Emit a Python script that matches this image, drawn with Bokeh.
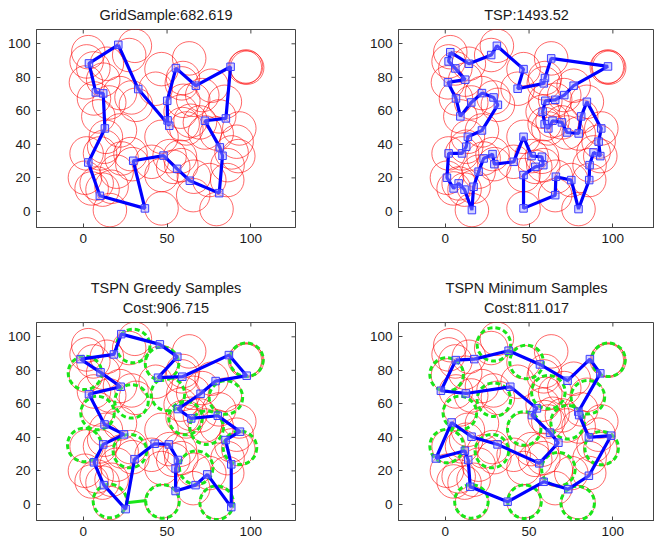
from bokeh.plotting import figure
from bokeh.layouts import column, row
from bokeh.models import Range1d, FixedTicker, Title
from bokeh.embed import file_html
from bokeh.resources import INLINE

# ---------------- data ----------------
titles = [["GridSample:682.619"], ["TSP:1493.52"],
          ["TSPN Greedy Samples", "Cost:906.715"], ["TSPN Minimum Samples", "Cost:811.017"]]
x_ticks = [0, 50, 100]
y_ticks = [0, 20, 40, 60, 80, 100]
radius = 10

# neighbourhood centres (= TSP tour vertices), in tour order
tsp_x = [3.0, 14.1, 27.4, 30.8, 46.7, 43.2, 58.8, 59.5, 63.2, 97.1, 76.6, 71.0, 65.6, 59.7, 58.1,
         59.3, 61.5, 64.0, 69.6, 72.6, 79.6, 81.1, 84.5, 93.1, 91.5, 92.5, 88.5, 86.1, 85.9, 79.5,
         75.2, 66.0, 65.6, 46.7, 46.7, 53.7, 58.5, 57.7, 51.5, 46.7, 40.8, 29.3, 28.2, 22.9, 19.9,
         16.9, 15.9, 11.5, 8.0, 5.0, 1.0, 2.0, 10.0, 12.5, 13.5, 21.9, 31.4, 28.8, 21.9, 15.5,
         9.0, 6.4, 1.6, 11.9, 6.0, 2.0]
tsp_y = [95.0, 88.1, 93.3, 98.8, 84.9, 73.2, 76.4, 79.6, 91.3, 86.5, 75.0, 69.4, 66.6, 66.0, 59.5,
         52.1, 49.5, 54.1, 53.1, 47.1, 46.5, 56.7, 65.4, 49.5, 41.6, 33.0, 35.2, 27.6, 18.7, 1.4,
         18.7, 20.7, 9.7, 1.8, 21.7, 26.6, 27.6, 32.6, 33.0, 44.5, 29.6, 28.2, 34.2, 31.6, 23.7,
         14.7, 0.8, 13.0, 16.7, 13.7, 20.1, 34.6, 34.6, 38.6, 44.5, 48.3, 63.6, 68.0, 70.6, 65.0,
         56.7, 67.4, 77.0, 78.6, 85.3, 89.5]
# a few extra neighbourhoods drawn almost on top of others
extra_x = [96.4, 97.8]
extra_y = [86.0, 85.8]

grid_x = [20.9, 3.4, 7.5, 11.9, 12.9, 3.0, 9.9, 36.8, 29.8, 47.9, 56.0, 63.6, 81.1, 83.1, 81.5,
          72.6, 85.1, 87.9, 67.2, 55.3, 50.1, 50.3, 51.3, 32.8]
grid_y = [99.4, 88.3, 71.0, 70.4, 49.5, 29.2, 9.3, 1.8, 30.2, 33.3, 25.4, 18.3, 10.9, 33.2, 38.2,
          54.1, 55.5, 86.3, 75.0, 85.5, 66.0, 54.3, 51.1, 73.0]

greedy_x = [-1.6, 18.3, 22.7, 45.7, 56.1, 44.6, 59.1, 86.9, 97.5, 79.0, 70.0, 56.5, 64.4, 80.3,
            93.5, 84.9, 88.3, 88.3, 74.0, 67.0, 55.1, 55.1, 56.5, 51.1, 42.6, 30.6, 25.3, 12.3,
            6.4, 11.9, 24.3, 12.7, 3.4, 22.3, 10.3]
greedy_y = [86.7, 89.5, 101.6, 95.5, 88.1, 75.6, 76.2, 89.1, 76.8, 73.6, 66.0, 56.9, 51.3, 52.9,
            43.4, 38.4, 23.9, -1.6, 17.9, 11.5, 8.0, 21.5, 26.5, 35.8, 36.2, 27.0, -2.8, 11.5,
            25.1, 35.8, 41.8, 47.7, 65.8, 70.2, 78.8]
greedy_gx = [97.4, 29.8, 47.0, 1.0, 28.8, 8.5, 50.5, 85.1, 61.0, 73.6, 0.6, 27.8, 15.9, 47.3,
             79.6, 67.4, 93.5]
greedy_gy = [86.3, 94.5, 84.0, 78.5, 61.5, 54.5, 65.8, 63.8, 51.5, 45.8, 35.5, 31.8, 2.0, 1.8,
             1.0, 21.9, 33.8]
greedy_link_x = [25.9, 37.8]
greedy_link_y = [1.0, 2.4]

min_x = [6.3, 17.3, 37.8, 56.5, 73.0, 86.3, 92.5, 79.4, 79.9, 85.7, 98.9, 85.7, 73.4, 58.7,
         37.2, 14.9, 13.7, 11.7, -5.6, 3.8, 15.7, 31.2, 56.1, 67.5, 62.5, 51.7, 54.7, 38.8, 12.3,
         -2.6]
min_y = [86.1, 86.7, 91.7, 83.5, 73.8, 86.7, 78.2, 55.3, 53.3, 40.0, 41.0, 17.1, 9.1, 13.5,
         1.6, 10.5, 26.5, 32.0, 27.4, 48.9, 40.4, 35.8, 24.5, 36.8, 42.8, 53.3, 57.3, 70.2, 66.2,
         67.8]
min_gx = [29.0, 97.4, 0.8, 48.5, 61.5, 85.1, 29.0, 8.7, 47.1, 73.0, 0.8, 27.8, 93.3, 67.5,
          15.6, 47.3, 79.0]
min_gy = [95.5, 86.3, 77.5, 85.0, 67.0, 64.0, 62.5, 54.5, 45.3, 49.0, 34.8, 31.8, 33.6, 21.0,
          1.8, 1.6, 0.8]

# ---------------- layout constants ----------------
PX = 1.676           # pixels per data unit
X0, Y0 = -27.9, -9.6
FRAME_H = 198
FONT = "Liberation Sans"
AXIS_COL = "#444444"
TICK_LEN = 4 / PX

circ_x = tsp_x + extra_x
circ_y = tsp_y + extra_y


def style_axis(ax, ticks):
    ax.ticker = FixedTicker(ticks=ticks)
    ax.major_tick_in = 4
    ax.major_tick_out = 0
    ax.minor_tick_line_color = None
    ax.axis_line_color = AXIS_COL
    ax.major_tick_line_color = AXIS_COL
    ax.major_label_text_font = FONT
    ax.major_label_text_font_size = "13.5px"
    ax.major_label_text_color = "#1a1a1a"
    ax.major_label_standoff = 6


def add_title(p, text, valign, standoff):
    p.add_layout(Title(text=text, align="center", vertical_align=valign, text_font=FONT,
                       text_font_size="14.5px", text_font_style="normal",
                       text_color="#1a1a1a", standoff=standoff), "above")


def make_fig(title_lines, is_right, is_bottom, path_x, path_y, green=None, link=None):
    frame_w = 256 if is_right else 259
    top = 50 if is_bottom else 29
    bottom = 24 if is_bottom else 45
    x1 = X0 + frame_w / PX
    y1 = Y0 + FRAME_H / PX
    p = figure(frame_width=frame_w, frame_height=FRAME_H,
               x_range=Range1d(X0, x1), y_range=Range1d(Y0, y1),
               output_backend="svg", toolbar_location=None,
               min_border_left=71 if is_right else 36, min_border_right=0 if is_right else 32,
               min_border_top=top, min_border_bottom=bottom,
               background_fill_color="white", border_fill_color="white")
    p.outline_line_color = AXIS_COL
    p.outline_line_width = 1
    p.grid.visible = False
    style_axis(p.xaxis[0], x_ticks)
    style_axis(p.yaxis[0], y_ticks)

    if is_bottom:
        add_title(p, title_lines[1], "top", 9)      # closest to the frame
        add_title(p, title_lines[0], "bottom", 0)
    else:
        add_title(p, title_lines[0], "top", 10)

    # inward tick marks on the top (and right) frame edges
    p.segment(x0=x_ticks, y0=[y1] * len(x_ticks), x1=x_ticks, y1=[y1 - TICK_LEN] * len(x_ticks),
              line_color=AXIS_COL, line_width=1)
    if not is_right:
        p.segment(x0=[x1] * len(y_ticks), y0=y_ticks, x1=[x1 - TICK_LEN] * len(y_ticks),
                  y1=y_ticks, line_color=AXIS_COL, line_width=1)

    p.circle(x=circ_x, y=circ_y, radius=radius, fill_color=None, line_color="#ff0000",
             line_width=0.7, line_alpha=0.85)
    if green is not None:
        p.circle(x=green[0], y=green[1], radius=radius, fill_color=None, line_color="#19e619",
                 line_width=3, line_dash="5 3")
    if link is not None:
        p.line(x=link[0], y=link[1], line_color="#19e619", line_width=3)
    p.line(x=path_x + path_x[:1], y=path_y + path_y[:1], line_color="#0000ff", line_width=3.2)
    p.scatter(x=path_x, y=path_y, marker="square", size=7.5, line_color="#3c3cff",
              fill_color="#a0a0ff", fill_alpha=0.45, line_width=1)
    return p


p1 = make_fig(titles[0], False, False, grid_x, grid_y)
p2 = make_fig(titles[1], True, False, tsp_x, tsp_y)
p3 = make_fig(titles[2], False, True, greedy_x, greedy_y, (greedy_gx, greedy_gy),
              (greedy_link_x, greedy_link_y))
p4 = make_fig(titles[3], True, True, min_x, min_y, (min_gx, min_gy))

layout = column(row(p1, p2), row(p3, p4))
open("out.html", "w").write(file_html(layout, INLINE))
